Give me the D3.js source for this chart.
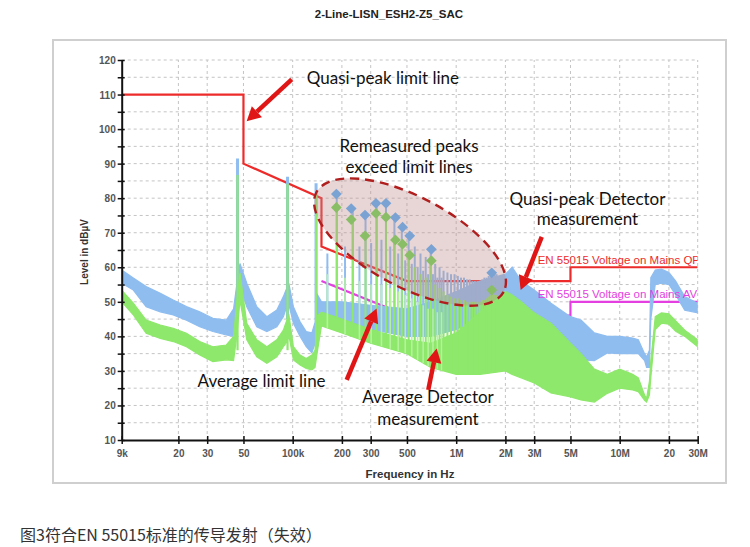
<!DOCTYPE html>
<html><head><meta charset="utf-8">
<script src="https://cdn.jsdelivr.net/npm/d3@7"></script>
<style>body{margin:0;background:#fff;} svg{display:block}</style>
</head><body>
<svg id="c" width="750" height="547"></svg>
<script>
// ---------- DATA ----------
const titleText = "2-Line-LISN_ESH2-Z5_SAC";
const captionText = "图3符合EN 55015标准的传导发射（失效）";
const yTicks = [10,20,30,40,50,60,70,80,90,100,110,120];
const yMinorTicks = [15,25,35,45,55,65,75,85,95,105,115];
const xTickK = [9,20,30,50,100,200,300,500,1000,2000,3000,5000,10000,20000,30000];
const xTickLabels = ["9k","20","30","50","100k","200","300","500","1M","2M","3M","5M","10M","20","30M"];

// limit lines (frequency in kHz, level in dBµV)
const qpLimitK  = [9,50,50,150,150,500,5000,5000,30000];
const qpLimitDb = [110,110,90,80,66,56,56,60,60];
const avLimitK  = [150,500,5000,5000,30000];
const avLimitDb = [56,46,46,50,50];

// measured spectrum envelopes (kHz)
const bandK   = [9,10.6,12.7,15.5,18.6,22.4,27,32.5,39.3,43.5,45.5,47.6,52.4,60.3,69.5,80,87.7,91,95,101,111,121,131,137,142,150,200,300,500,700,1000,1400,2000,2200,2500,3000,3800,5000,5800,7000,8400,10000,12000,13000,14200,14600,15200,15500,16500,18000,20000,22000,25000,30000];
const peakHi  = [59.2,56.9,54.4,52.5,50.5,48.6,47.1,45.2,44.7,48,55,61.1,55.4,48.6,45.7,47.6,51.5,53.4,55,48.6,44.2,41.4,41,44,52,50,50,49,48,50,53,56,58,60,56,53.4,49.6,45.7,44.7,41,40,40,39.5,39,35,34,36,57,59.2,59.5,58.5,56,51.5,49.6];
const peakLo  = [55.4,53.4,48.6,47.1,46.2,44.7,42.8,41.4,40.4,40,44,54.4,48.6,42.8,41.4,42.8,45.7,48,49,43.8,40,37,35.2,38,44,44,43,42,40,40,42,45,46,45,43,41,39,35,33.2,33,35.2,35,35,35,33,31,31,45,55,55.4,55,52,47.6,46.8];
const avgHi   = [53.4,49.6,44.7,43.3,42.3,40.9,38.5,37,37.5,40,50,58.3,43.8,39,37,39,41.8,44,46,37,34.6,33.6,34.6,36,46,47,45,42,39,38,41,47,53,52,50,46.8,43.8,38,35,30.5,29,30.5,29,28,23,22,27,33,45.7,46.8,46.5,44.5,41.8,39];
const avgLo   = [50,46.2,40.9,39.4,38.5,37,34.6,32.7,33.2,33,40,50.5,39,34.1,32.2,34.1,37,38,40,33.2,31.7,30.7,30.3,31,36,43,41,38,35,31,29,29,30,29,28,26.5,23.6,22.5,21.6,21,23.5,25,24.5,24,21.5,21,23,28,42,43.8,43.5,41.5,40,37];

// strong low-frequency harmonics
const spikeK      = [46, 93, 139];
const spikePeakDb = [91.5, 86.2, 84.3];
const spikeAvgDb  = [86.7, 84.2, 81.5];

// comb of harmonics 150 kHz .. 1.8 MHz
const combK      = [163,186,209,233,256,279,302,326,349,372,395,419,442,465,488,512,535,558,581,605,628,651,674,698,721,744,767,791,814,837,884,930,977,1023,1070,1116,1163,1209,1256,1302,1349,1395,1442,1488,1535,1581,1628,1674,1721,1767];
const combPeakDb = [64,81,66,77,66,75,67,78.5,68,78.5,66,74.5,64,71.5,62,69,61,66,60,64,59,63,58,65,58,61,57,60,57,59,58.5,58,58,57.5,57,57,56.5,56.5,56,56,56,56,56.5,57,57,57.5,58,58.4,58,58];
const combAvgDb  = [58,77,57,74,56,69,55,75.5,55,74.5,54,68,53,66.5,52,63.5,51,60,50,58,49,57,48,62,48,55,47,54,47,53,52,51.5,51,51,50.5,50.5,50,50,50,50,50,50,50.5,50.5,51,51.5,52,53,52,52];

// remeasured peaks (diamonds)
const remeasK    = [185,228,277,323,372,425,470,520,705,1650];
const remeasQpDb = [81.2,77.0,75.1,78.5,78.5,74.4,71.6,69.1,65.2,58.4];
const remeasAvDb = [77.3,73.8,69.1,75.6,74.5,67.9,66.7,63.5,61.9,53.4];

// ---------- CHART ----------
const svg = d3.select("#c");
const x = d3.scaleLog().domain([9,30000]).range([121.7,697.7]);
const y = d3.scaleLinear().domain([10,120]).range([440,60]);
const X0 = x.range()[0], X1 = x.range()[1], Y0 = y.range()[0], Y1 = y.range()[1];

const BLUE = "#8fbdf0", GREEN = "#8ee86b", PALEGREEN = "#b4f29c", RED = "#ee2b2b", MAG = "#e43fe0", ARROW = "#e01515";
const tickFont = "'Liberation Sans', Arial, sans-serif";
const annFont = "Lato, 'Open Sans', sans-serif";

// outer frame
svg.append("rect").attr("x",53).attr("y",40).attr("width",673).attr("height",443)
  .attr("fill","#fff").attr("stroke","#cfcfcf").attr("stroke-width",2);

// title
svg.append("text").attr("x",389).attr("y",18).attr("text-anchor","middle")
  .attr("font-family",tickFont).attr("font-weight","bold").attr("font-size",11.5).attr("fill","#222")
  .text(titleText);

// grid
const grid = svg.append("g").attr("stroke","#c4c4c4").attr("stroke-width",1).attr("stroke-dasharray","3,3");
yTicks.concat(yMinorTicks).filter(v=>v>10).forEach(v=>{
  grid.append("line").attr("x1",X0).attr("x2",X1).attr("y1",y(v)).attr("y2",y(v));
});
xTickK.filter(v=>v>9).forEach(v=>{
  grid.append("line").attr("x1",x(v)).attr("x2",x(v)).attr("y1",Y0).attr("y2",Y1);
});

// clip
svg.append("clipPath").attr("id","pc").append("rect")
  .attr("x",X0).attr("y",Y1).attr("width",X1-X0).attr("height",Y0-Y1);
const plot = svg.append("g").attr("clip-path","url(#pc)");

// limit lines
const lim = d3.line().x(d=>x(d[0])).y(d=>y(d[1]));
plot.append("path").datum(qpLimitK.map((f,i)=>[f,qpLimitDb[i]])).attr("d",lim)
  .attr("fill","none").attr("stroke",RED).attr("stroke-width",2.2);
plot.append("path").datum(avLimitK.map((f,i)=>[f,avLimitDb[i]])).attr("d",lim)
  .attr("fill","none").attr("stroke",MAG).attr("stroke-width",2.2);

// spectra bands
const band = (hi,lo)=>d3.area().x((d,i)=>x(bandK[i])).y0((d,i)=>y(lo[i])).y1((d,i)=>y(hi[i]));
plot.append("path").datum(bandK).attr("d",band(peakHi,peakLo)).attr("fill",BLUE).attr("stroke",BLUE).attr("stroke-width",1.2);

// base of comb lines follows the measured envelopes
const avgLoAt = d3.scaleLog().domain(bandK).range(avgLo);
const peakLoAt = d3.scaleLog().domain(bandK).range(peakLo);

// blue comb + spikes
combK.forEach((f,i)=>{
  plot.append("line").attr("x1",x(f)).attr("x2",x(f)).attr("y1",y(peakLoAt(f))).attr("y2",y(combPeakDb[i]))
    .attr("stroke",BLUE).attr("stroke-width",2);
});
spikeK.forEach((f,i)=>{
  plot.append("line").attr("x1",x(f)).attr("x2",x(f)).attr("y1",y(45)).attr("y2",y(spikePeakDb[i]))
    .attr("stroke",BLUE).attr("stroke-width",3);
});

plot.append("path").datum(bandK).attr("d",band(avgHi,avgLo)).attr("fill",GREEN).attr("stroke",GREEN).attr("stroke-width",1.2);

combK.forEach((f,i)=>{
  const harm = i%2===1 || i>=30;
  plot.append("line").attr("x1",x(f)).attr("x2",x(f)).attr("y1",y(avgLoAt(f))).attr("y2",y(combAvgDb[i]))
    .attr("stroke",harm?GREEN:PALEGREEN).attr("stroke-width",harm?2:1.6);
});
spikeK.forEach((f,i)=>{
  plot.append("line").attr("x1",x(f)).attr("x2",x(f)).attr("y1",y(36)).attr("y2",y(spikeAvgDb[i]))
    .attr("stroke",GREEN).attr("stroke-width",2.2);
});

// limit labels
plot.append("text").attr("x",x(3150)).attr("y",y(60.9)).attr("font-family",tickFont).attr("font-size",11.5)
  .attr("fill",RED).text("EN 55015 Voltage on Mains QP");
plot.append("text").attr("x",x(3150)).attr("y",y(51.1)).attr("font-family",tickFont).attr("font-size",11.5)
  .attr("fill",MAG).text("EN 55015 Voltage on Mains AV");

// ellipse highlight (centred in data space)
const ec = [x(522), y(67.3)];
const ell = svg.append("g").attr("transform",`translate(${ec[0]},${ec[1]}) rotate(28)`);
ell.append("ellipse").attr("rx",106).attr("ry",45).attr("fill","rgba(190,140,140,0.36)");
// diamonds
const sym = d3.symbol().type(d3.symbolSquare).size(58);
remeasK.forEach((f,i)=>{
  svg.append("path").attr("d",sym()).attr("transform",`translate(${x(f)},${y(remeasQpDb[i])}) rotate(45)`).attr("fill","#7aa3d3");
  svg.append("path").attr("d",sym()).attr("transform",`translate(${x(f)},${y(remeasAvDb[i])}) rotate(45)`).attr("fill","#89bd66");
});
const ell2 = svg.append("g").attr("transform",`translate(${ec[0]},${ec[1]}) rotate(28)`);
ell2.append("ellipse").attr("rx",106).attr("ry",45).attr("fill","none")
  .attr("stroke","#b01e1e").attr("stroke-width",2.4).attr("stroke-dasharray","9,6");

// axes
const yAxis = svg.append("g").attr("transform",`translate(${X0},0)`)
  .call(d3.axisLeft(y).tickValues(yTicks).tickSizeOuter(0).tickPadding(0).tickFormat(d3.format("d")));
const yMinor = svg.append("g").attr("transform",`translate(${X0},0)`)
  .call(d3.axisLeft(y).tickValues(yMinorTicks).tickSizeOuter(0).tickFormat(""));
yMinor.select(".domain").remove();
[yAxis,yMinor].forEach(a=>a.selectAll(".tick line").attr("x1",3).attr("x2",-4).attr("stroke","#111").attr("stroke-width",1.5));
const xAxis = svg.append("g").attr("transform",`translate(0,${Y0})`)
  .call(d3.axisBottom(x).tickValues(xTickK).tickSizeOuter(0).tickPadding(4).tickFormat((d,i)=>xTickLabels[i]));
xAxis.selectAll(".tick line").attr("y1",-4).attr("y2",4).attr("stroke","#111").attr("stroke-width",1.5);
[yAxis,xAxis].forEach(a=>{
  a.select(".domain").attr("stroke","#111").attr("stroke-width",2);
  a.selectAll("text").attr("font-family",tickFont).attr("font-size",10).attr("font-weight","bold").attr("fill","#555");
});
yAxis.selectAll("text").attr("dy","0.35em");

svg.append("text").attr("transform","translate(88,252) rotate(-90)").attr("text-anchor","middle")
  .attr("font-family",tickFont).attr("font-weight","bold").attr("font-size",10).attr("fill","#333")
  .text("Level in dBµV");
svg.append("text").attr("x",410).attr("y",478).attr("text-anchor","middle")
  .attr("font-family",tickFont).attr("font-weight","bold").attr("font-size",11.5).attr("fill","#333")
  .text("Frequency in Hz");

// annotations (anchored in data space)
function arrow(f1,l1,f2,l2){
  const x1=x(f1),y1=y(l1),x2=x(f2),y2=y(l2);
  const dx=x2-x1, dy=y2-y1, L=Math.hypot(dx,dy), ux=dx/L, uy=dy/L;
  const hl=14, hw=7.5, bx=x2-ux*hl, by=y2-uy*hl;
  svg.append("line").attr("x1",x1).attr("y1",y1).attr("x2",bx).attr("y2",by)
    .attr("stroke",ARROW).attr("stroke-width",4.5);
  svg.append("path").attr("d",`M${x2},${y2}L${bx-uy*hw},${by+ux*hw}L${bx+uy*hw},${by-ux*hw}Z`).attr("fill",ARROW);
}
function label(f,l,txt,anchor){
  svg.append("text").attr("x",x(f)).attr("y",y(l)).attr("text-anchor",anchor||"middle")
    .attr("font-family",annFont).attr("font-size",17).attr("fill","#111").text(txt);
}
arrow(98.7,114.4,52.3,102.3);
arrow(3336,68.8,2480,53.4);
arrow(214,27.4,326,48.1);
arrow(675,24.5,760,36.5);
label(122,113.05,"Quasi-peak limit line","start");
label(515,93.5,"Remeasured peaks");
label(515,87.2,"exceed limit lines");
label(6354,78.0,"Quasi-peak Detector");
label(6354,72.2,"measurement");
label(26.2,25.4,"Average limit line","start");
label(672,20.6,"Average Detector");
label(672,14.3,"measurement");

// caption
svg.append("text").attr("x",20).attr("y",541)
  .attr("font-family","'Noto Sans CJK SC', sans-serif").attr("font-size",16).attr("fill","#333")
  .text(captionText);
</script>
</body></html>
